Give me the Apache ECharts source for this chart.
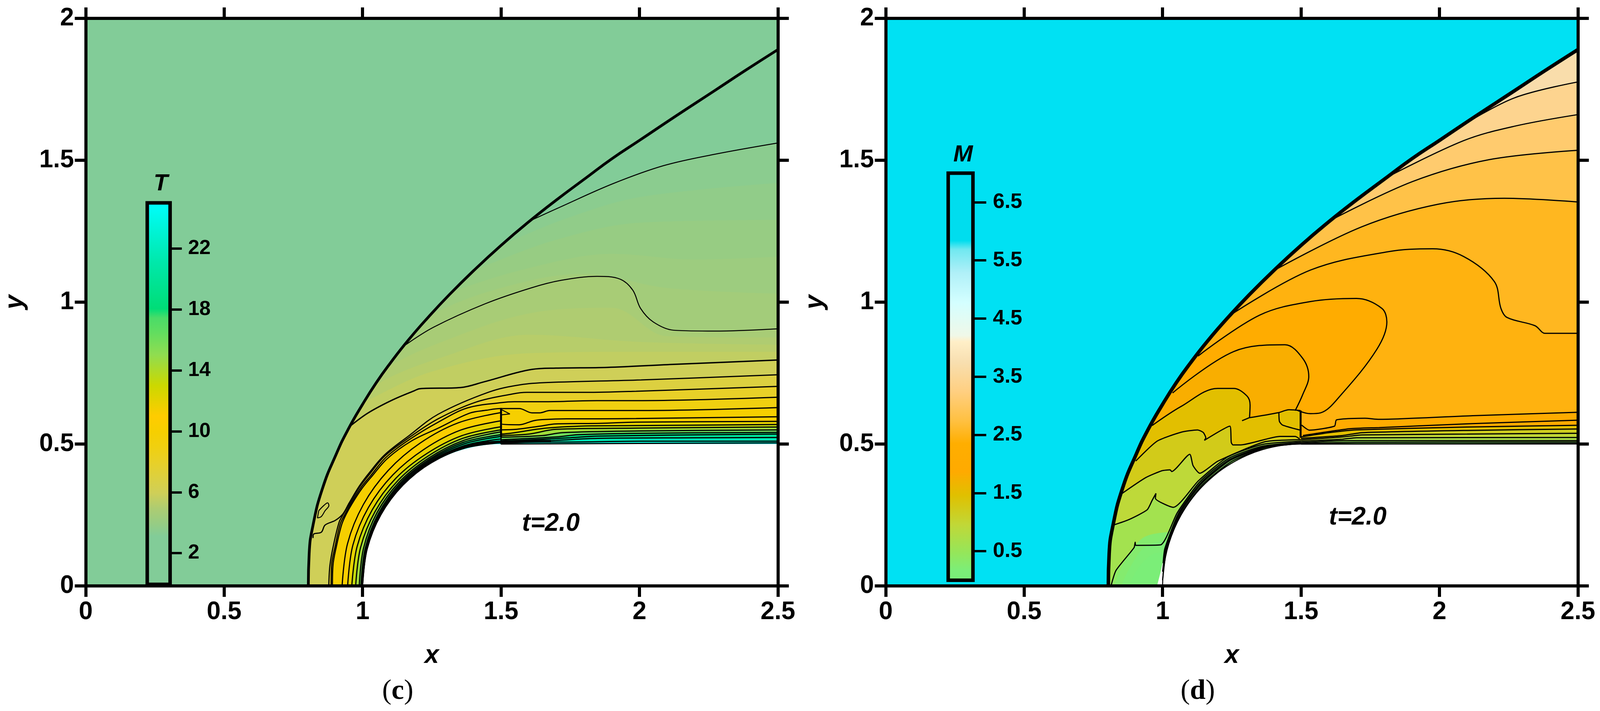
<!DOCTYPE html>
<html>
<head>
<meta charset="utf-8">
<style>
  html, body { margin: 0; padding: 0; background: #fff; }
  #chart { width: 100vw; height: 1819px; }
</style>
<script src="https://cdn.jsdelivr.net/npm/echarts@6/dist/echarts.min.js"></script>
</head>
<body>
<div id="chart"></div>
<script>
// axis ticks
const xTicks = [0, 0.5, 1, 1.5, 2, 2.5];
const yTicks = [0, 0.5, 1, 1.5, 2];
const tempTicks = [2, 6, 10, 14, 18, 22];
const machTicks = [0.5, 1.5, 2.5, 3.5, 4.5, 5.5, 6.5];

// colour scales
const tempLevels = [-0.05, 0.08, 0.1, 3.2, 4, 5, 6, 7, 8, 9, 10, 11, 13, 15, 16.5, 17.4, 18, 21, 25];
const tempColors = ['#ffffff', '#ffffff', '#82cc98', '#82cc98', '#96cc84', '#adcc72', '#cfcf58', '#dcd040', '#e8d028', '#f0d010', '#f6cf00', '#ffcc00', '#ccd800', '#90dd50', '#60dd60', '#4adc68', '#00dd77', '#00e8aa', '#00ffff'];
const machLevels = [0, 0.03, 0.05, 0.2, 0.5, 0.97, 1.48, 1.88, 2.36, 2.74, 3.24, 3.75, 4.1, 4.2, 4.76, 5.27, 5.67, 5.82, 7];
const machColors = ['#ffffff', '#ffffff', '#78ee78', '#7cee78', '#95e65a', '#c0d838', '#e0c000', '#ffaa00', '#ffae00', '#ffc040', '#ffcf80', '#f8dfb0', '#ffefc8', '#f0f8e8', '#d4ffff', '#b0f0f8', '#70e8f0', '#00ddee', '#00ddef'];

// shock and body, same in both panels
const shockFront = [[0.804,0],[0.807,0.113],[0.821,0.214],[0.855,0.343],[0.906,0.467],[0.947,0.55],[1,0.64],[1.05,0.717],[1.1,0.785],[1.165,0.866],[1.24,0.95],[1.313,1.026],[1.4,1.11],[1.5,1.2],[1.6,1.283],[1.7,1.36],[1.81,1.44],[1.9,1.505],[2,1.57],[2.13,1.655],[2.271,1.745],[2.38,1.815],[2.5,1.89]];
const bodyOutline = [[1,0],[1.0025,0.05],[1.0101,0.1],[1.023,0.15],[1.0417,0.2],[1.067,0.25],[1.1,0.3],[1.143,0.35],[1.2,0.4],[1.245,0.43],[1.304,0.46],[1.36,0.48],[1.43,0.495],[1.5,0.5],[2.5,0.5]];
const machBodyGap = [[0.98,0],[0.993,0.05],[1.005,0.1],[1.023,0.15],[1.0417,0.2],[1.067,0.25],[1.1,0.3],[1.143,0.35],[1.2,0.4],[1.245,0.43],[1.304,0.46],[1.36,0.48],[1.43,0.495],[1.5,0.5],[2.5,0.5]];

// T panel contours
const tempC0 = [[1.608,1.288],[1.718,1.337],[1.903,1.417],[2.087,1.481],[2.271,1.521],[2.5,1.561]];
const tempC1 = [[1.156,0.85],[1.257,0.912],[1.442,0.994],[1.608,1.05],[1.718,1.077],[1.847,1.091],[1.93,1.081],[1.976,1.042],[2.004,0.978],[2.05,0.93],[2.124,0.901],[2.271,0.898],[2.5,0.906]];
const tempCa = [[0.9562,0.5642],[1.0204,0.61],[1.1076,0.6552],[1.1855,0.6873],[1.207,0.695],[1.354,0.699],[1.44,0.7195],[1.612,0.763],[1.698,0.7675],[1.883,0.77],[2.129,0.781],[2.5,0.796]];
// unlined shading steps between the drawn contours
const tempShade1 = [[1.52,1.21],[1.75,1.3],[2,1.37],[2.5,1.42]];
const tempShade2 = [[1.42,1.12],[1.7,1.22],[2,1.28],[2.5,1.29]];
const tempShade3 = [[1.33,1.04],[1.6,1.12],[1.9,1.17],[2.2,1.15],[2.5,1.16]];
const tempShade4 = [[1.24,0.95],[1.5,1.05],[1.8,1.1],[2.1,1.05],[2.5,1.03]];
const tempShade5 = [[1.1,0.775],[1.3,0.865],[1.6,0.96],[1.9,0.98],[2.1,0.88],[2.5,0.875]];
const tempShade6 = [[1.05,0.71],[1.3,0.81],[1.6,0.885],[2,0.86],[2.5,0.85]];
const tempShade7 = [[1.01,0.65],[1.25,0.755],[1.6,0.82],[2,0.825],[2.5,0.825]];
const tempLa = [[0.821,0.1686],[0.823,0.1824],[0.851,0.1893],[0.8645,0.2145],[0.901,0.2306],[0.9287,0.2535],[0.9516,0.2926],[0.9883,0.3522],[1.025,0.4],[1.08,0.4624],[1.167,0.529],[1.273,0.605],[1.456,0.683],[1.571,0.709],[1.672,0.717],[2.006,0.726],[2.5,0.744]];
const tempLb = [[0.878,0],[0.882,0.0723],[0.8943,0.141],[0.915,0.2237],[0.9296,0.2512],[0.9516,0.288],[0.9883,0.3476],[1.025,0.3935],[1.08,0.4578],[1.167,0.522],[1.273,0.589],[1.41,0.648],[1.539,0.676],[1.594,0.682],[1.805,0.682],[1.988,0.686],[2.5,0.703]];
const tempLc = [[0.8865,0],[0.888,0.0723],[0.9012,0.141],[0.9195,0.2191],[0.9356,0.2512],[0.9562,0.288],[0.993,0.3453],[1.0296,0.389],[1.0846,0.4532],[1.1717,0.5175],[1.273,0.577],[1.378,0.627],[1.502,0.646],[1.548,0.649],[1.663,0.649],[1.846,0.653],[1.988,0.653],[2.5,0.665]];
const tempLd = [[0.891,0],[0.893,0.0723],[0.9058,0.141],[0.924,0.2145],[0.94,0.2512],[0.9608,0.288],[0.9975,0.343],[1.034,0.3867],[1.0892,0.4486],[1.1763,0.5106],[1.273,0.556],[1.387,0.609],[1.447,0.619],[1.497,0.625],[1.566,0.625],[1.612,0.61],[1.64,0.61],[1.676,0.618],[1.988,0.618],[2.5,0.6285]];
const tempLe = [[0.926,0],[0.9455,0.1487],[1.0029,0.287],[1.0928,0.4072],[1.209,0.504],[1.3459,0.5748],[1.5,0.611],[1.5,0.572],[1.566,0.568],[1.617,0.582],[1.649,0.586],[1.736,0.589],[1.855,0.589],[1.988,0.59],[2.5,0.596]];
const tempLf = [[0.946,0],[0.9648,0.1435],[1.0211,0.2765],[1.109,0.391],[1.222,0.4815],[1.3529,0.5487],[1.5,0.582],[1.5,0.55],[1.557,0.552],[1.64,0.563],[1.699,0.571],[1.86,0.573],[1.988,0.577],[2.5,0.58]];
const tempLg = [[0.961,0],[0.9803,0.1393],[1.035,0.2685],[1.1203,0.3797],[1.231,0.4659],[1.3581,0.5294],[1.5,0.561],[1.5,0.535],[1.534,0.538],[1.663,0.556],[1.828,0.564],[1.988,0.565],[2.5,0.569]];
const tempLh = [[0.975,0],[0.9928,0.136],[1.0453,0.2625],[1.1281,0.3719],[1.236,0.4572],[1.3607,0.5197],[1.5,0.55],[1.5,0.53],[1.6,0.535],[1.7,0.552],[1.99,0.556],[2.5,0.56]];
const tempLi = [[0.988,0],[1.0035,0.1331],[1.0523,0.2585],[1.1331,0.3669],[1.2395,0.4512],[1.3627,0.512],[1.5,0.543],[1.5,0.524],[1.65,0.53],[1.72,0.54],[2,0.546],[2.5,0.55]];
const tempLj = [[0.994,0],[1.0093,0.1316],[1.0575,0.2555],[1.1366,0.3634],[1.242,0.4469],[1.3643,0.5062],[1.5,0.533],[1.5,0.515],[1.7,0.525],[1.78,0.533],[2,0.538],[2.5,0.541]];
const tempLk = [[0.997,0],[1.0122,0.1308],[1.0609,0.2535],[1.1394,0.3606],[1.244,0.4434],[1.3658,0.5004],[1.5,0.527],[1.5,0.51],[1.75,0.522],[1.85,0.528],[2.5,0.535]];
const tempLl = [[0.999,0],[1.0141,0.1303],[1.0635,0.252],[1.1423,0.3577],[1.246,0.4399],[1.3674,0.4946],[1.5,0.518],[1.5,0.505],[1.7,0.513],[1.85,0.52],[2.2,0.522],[2.5,0.523]];
const tempLm = [[1,0],[1.016,0.1298],[1.0653,0.251],[1.1444,0.3556],[1.248,0.4365],[1.3689,0.4888],[1.5,0.51],[1.5,0.5025],[1.65,0.507],[1.75,0.507],[2,0.51],[2.5,0.51]];
const tempLn = [[1,0],[1.0165,0.1296],[1.0661,0.2505],[1.1454,0.3546],[1.249,0.4347],[1.3697,0.4859],[1.5,0.504],[1.5,0.5],[2.5,0.504]];
const tempWallDark = [[1.2,0.408],[1.3,0.464],[1.4,0.497],[1.5,0.508],[1.6,0.51],[1.68,0.51]];
const tempIsland = [[0.8416,0.265],[0.86,0.2834],[0.8737,0.2926],[0.8783,0.2834],[0.8645,0.265],[0.8507,0.2444],[0.837,0.2398],[0.8416,0.265]];
const tempWedge = [[1.502,0.621],[1.532,0.606],[1.502,0.603]];
const tempStep = [[1.5,0.627],[1.5,0.524]];

// M panel contours
const machM1 = [[2.087,1.625],[2.271,1.72],[2.5,1.776]];
const machM2 = [[1.81,1.44],[2.087,1.569],[2.271,1.62],[2.5,1.661]];
const machM3 = [[1.608,1.289],[1.903,1.425],[2.179,1.502],[2.5,1.535]];
const machM4 = [[1.405,1.113],[1.718,1.265],[1.995,1.345],[2.234,1.366],[2.5,1.353]];
const machM5 = [[1.257,0.962],[1.534,1.113],[1.81,1.177],[1.976,1.188],[2.087,1.161],[2.198,1.073],[2.222,0.978],[2.244,0.946],[2.345,0.917],[2.382,0.89],[2.5,0.89]];
const machM6 = [[1.128,0.81],[1.35,0.954],[1.534,1.002],[1.7,1.013],[1.792,0.978],[1.81,0.93],[1.774,0.834],[1.645,0.674],[1.571,0.61],[1.534,0.607],[1.488,0.618]];
const machM7 = [[1.036,0.68],[1.257,0.826],[1.442,0.85],[1.506,0.802],[1.528,0.738],[1.506,0.674],[1.479,0.618]];
const machM8 = [[0.962,0.565],[1.066,0.632],[1.199,0.696],[1.257,0.696],[1.305,0.669],[1.316,0.637],[1.314,0.593],[1.42,0.611],[1.457,0.621],[1.498,0.618]];
const machRidge = [[1.287,0.582],[1.314,0.593]];
const machPocket = [[1.42,0.611],[1.422,0.5795],[1.433,0.567],[1.495,0.5495]];
const machStep = [[1.4985,0.618],[1.4985,0.522]];
const machH = [[0.903,0.44],[0.98,0.51],[1.066,0.5414],[1.126,0.5497],[1.147,0.5405],[1.156,0.522],[1.151,0.513],[1.243,0.563],[1.248,0.506],[1.254,0.497],[1.282,0.497],[1.424,0.527],[1.479,0.527],[1.495,0.518]];
const machI = [[0.845,0.32],[0.938,0.381],[0.998,0.406],[1.027,0.409],[1.033,0.403],[1.098,0.464],[1.11,0.424],[1.134,0.397],[1.2,0.44],[1.369,0.508],[1.5,0.515]];
const machJ = [[0.821,0.214],[0.879,0.234],[0.944,0.268],[0.962,0.301],[0.976,0.326],[0.974,0.309],[1.039,0.277],[1.1295,0.3705],[1.237,0.4555],[1.3622,0.499],[1.5,0.51]];
const machK = [[0.8145,0.003],[0.832,0.055],[0.897,0.135],[0.901,0.154],[0.903,0.143],[0.992,0.1445],[1.0531,0.258],[1.1338,0.3662],[1.24,0.4503],[1.3638,0.493],[1.5,0.506]];
// unlined shading steps in the stagnation region
const machShade1 = [[0.825,0],[0.86,0.08],[0.93,0.17],[1.03,0.19]];
const machShade2 = [[0.85,0],[0.885,0.07],[0.94,0.14],[1.02,0.16]];
const machShade3 = [[0.88,0],[0.91,0.06],[0.96,0.11],[1.01,0.12]];
const machW3 = [[1.002,0.08],[1.0083,0.1318],[1.0575,0.2555],[1.1373,0.3627],[1.2425,0.446],[1.3684,0.4907],[1.5,0.504]];
const machW4 = [[1,0.05],[1.0122,0.1308],[1.0609,0.2535],[1.1401,0.3599],[1.2445,0.4425],[1.3689,0.4888],[1.5,0.503]];
const machW5 = [[1,0.02],[1.0151,0.13],[1.0644,0.2515],[1.1437,0.3563],[1.2475,0.4373],[1.3695,0.4869],[1.5,0.502]];
const machD = [[1.502,0.567],[1.53,0.549],[1.621,0.563],[1.628,0.585],[1.731,0.591],[1.782,0.587],[2.12,0.6],[2.5,0.612]];
const machE = [[1.507,0.53],[1.677,0.554],[1.782,0.558],[2.12,0.572],[2.5,0.584]];
const machF = [[1.5,0.525],[1.6,0.54],[1.7,0.55],[2.1,0.56],[2.5,0.566]];
const machG = [[1.5,0.52],[1.65,0.53],[1.72,0.54],[2.1,0.548],[2.5,0.553]];
const machH2 = [[1.5,0.515],[1.65,0.525],[1.72,0.532],[2.1,0.535],[2.5,0.538]];
const machI2 = [[1.5,0.51],[1.65,0.517],[1.7,0.522],[2.5,0.523]];
const machJ2 = [[1.5,0.505],[1.6,0.51],[1.7,0.512],[2.5,0.512]];
const machK2 = [[1.5,0.502],[1.7,0.506],[2.5,0.507]];
const machL2 = [[1.5,0.5],[2.5,0.502]];

const FONT = '"Liberation Sans", Arial, sans-serif';

// the window can open narrower than 4200 (4096 here), so the layout follows its real width
const sx = window.innerWidth / 4200;

function scaleColor(levels, colors, v) {
  let i = 1;
  while (i < levels.length - 1 && levels[i] < v) i++;
  const t = Math.max(0, Math.min(1, (v - levels[i - 1]) / (levels[i] - levels[i - 1])));
  const a = echarts.color.parse(colors[i - 1]);
  const b = echarts.color.parse(colors[i]);
  const mix = [0, 1, 2].map(k => Math.round(a[k] + (b[k] - a[k]) * t));
  return 'rgb(' + mix.join(',') + ')';
}

// everything behind the shock front up to where a contour leaves it
function fromShock(line) {
  return shockFront.filter(p => p[0] < line[0][0]).concat(line);
}

function fill(panel, pts, color, smooth) {
  return {
    type: 'line', xAxisIndex: panel * 2, yAxisIndex: panel * 2, data: pts,
    showSymbol: false, silent: true, animation: false, clip: true,
    smooth: smooth === undefined ? 0.35 : smooth,
    lineStyle: { width: 0, opacity: 0 },
    areaStyle: { color: color, opacity: 1, origin: 'start' }
  };
}

function contour(panel, pts, width, smooth) {
  return {
    type: 'line', xAxisIndex: panel * 2, yAxisIndex: panel * 2, data: pts,
    showSymbol: false, silent: true, animation: false, clip: true,
    smooth: smooth === undefined ? 0.35 : smooth,
    lineStyle: { color: '#000', width: width || 3 }, z: 3
  };
}

function barSeries(index, levels, colors) {
  const lo = levels[0], hi = levels[levels.length - 1];
  const stops = levels.map((v, i) => ({ offset: (v - lo) / (hi - lo), color: colors[i] }));
  return {
    type: 'custom', xAxisIndex: index, yAxisIndex: index, z: 5, silent: true, animation: false,
    data: [[0, lo]],
    renderItem: (params, api) => {
      const a = api.coord([0, hi]);
      const b = api.coord([1, lo]);
      return {
        type: 'rect',
        shape: { x: a[0], y: a[1], width: b[0] - a[0], height: b[1] - a[1] },
        style: {
          fill: new echarts.graphic.LinearGradient(0, 1, 0, 0, stops),
          stroke: '#000', lineWidth: 9
        }
      };
    }
  };
}

const T = v => scaleColor(tempLevels, tempColors, v);
const M = v => scaleColor(machLevels, machColors, v);

const series = [
  // T fills, outer to inner
  fill(0, shockFront, T(3.2), 0.5),
  fill(0, fromShock(tempC0), T(3.55)),
  fill(0, fromShock(tempShade1), T(3.8)),
  fill(0, fromShock(tempShade2), T(4.05)),
  fill(0, fromShock(tempShade3), T(4.3)),
  fill(0, fromShock(tempShade4), T(4.55)),
  fill(0, fromShock(tempC1), T(4.8)),
  fill(0, fromShock(tempShade5), T(5.05)),
  fill(0, fromShock(tempShade6), T(5.3)),
  fill(0, fromShock(tempShade7), T(5.6)),
  fill(0, fromShock(tempCa), T(6)),
  fill(0, tempLa.slice(5), T(7)),
  fill(0, tempLb, T(8)),
  fill(0, tempLc, T(9)),
  fill(0, tempLd, T(10)),
  fill(0, tempLe, T(10.4)),
  fill(0, tempLf, T(12)),
  fill(0, tempLg, T(13.3)),
  fill(0, tempLh, T(14.5)),
  fill(0, tempLi, T(16)),
  fill(0, tempLj, T(18)),
  fill(0, tempLk, T(20)),
  fill(0, tempLl, T(21.5)),
  fill(0, tempLm, T(23)),
  fill(0, tempLn, T(24.5)),
  fill(0, bodyOutline, '#ffffff'),
  // M fills
  fill(1, shockFront, M(3.7), 0.5),
  fill(1, fromShock(machM1), M(3.4)),
  fill(1, fromShock(machM2), M(3.1)),
  fill(1, fromShock(machM3), M(2.8)),
  fill(1, fromShock(machM4), M(2.55)),
  fill(1, fromShock(machM5), M(2.45)),
  fill(1, fromShock(machM6), M(2.15)),
  fill(1, fromShock(machM7), M(1.8)),
  fill(1, fromShock(machM8), M(1.5)),
  fill(1, fromShock(machH), M(1.25), 0.2),
  fill(1, fromShock(machI), M(0.95), 0.2),
  fill(1, fromShock(machJ), M(0.65), 0.2),
  fill(1, fromShock(machK), M(0.4), 0.2),
  fill(1, machShade1, M(0.3)),
  fill(1, machShade2, M(0.22)),
  fill(1, machShade3, M(0.15)),
  fill(1, machD, M(2.05), 0.2),
  fill(1, machE, M(1.9)),
  fill(1, machF, M(1.5)),
  fill(1, machG, M(1.2)),
  fill(1, machH2, M(1)),
  fill(1, machI2, M(0.75)),
  fill(1, machJ2, M(0.5)),
  fill(1, machK2, M(0.3)),
  fill(1, machL2, M(0.2)),
  fill(1, machBodyGap, '#ffffff'),
  // T lines
  contour(0, shockFront, 7, 0.5),
  contour(0, tempC0, 2.5),
  contour(0, tempC1, 2.5),
  contour(0, tempCa, 3.5),
  contour(0, tempIsland, 2.5),
  contour(0, tempWedge, 2.5, false),
  contour(0, tempStep, 5, false),
  contour(0, tempWallDark, 7)
].concat(
  [tempLa, tempLb, tempLc, tempLd, tempLe, tempLf, tempLg, tempLh, tempLi, tempLj, tempLk, tempLl, tempLm, tempLn].map(l => contour(0, l, 3)),
  [machM1, machM2, machM3, machM4, machM5, machM6, machM7, machM8].map(l => contour(1, l, 3)),
  [machRidge, machPocket, machH, machI, machJ, machK, machW3, machW4, machW5, machD, machE, machF, machG, machH2, machI2, machJ2, machK2, machL2].map(l => contour(1, l, 3, 0.2)),
  [
    contour(1, shockFront, 9, 0.5),
    contour(1, machStep, 5, false),
    contour(1, bodyOutline, 2.5),
    barSeries(4, tempLevels, tempColors),
    barSeries(5, machLevels, machColors)
  ]
);

const frameLine = { show: true, onZero: false, lineStyle: { color: '#000', width: 8, cap: 'square' } };
const frameTick = { show: true, inside: false, length: 28, lineStyle: { color: '#000', width: 8 } };
const tickFont = { fontFamily: FONT, fontWeight: 'bold', fontSize: 64, color: '#000' };
const nameFont = { fontFamily: FONT, fontWeight: 'bold', fontStyle: 'italic', fontSize: 66, color: '#000' };

function xAxisPair(grid) {
  const base = {
    gridIndex: grid, type: 'value', min: xTicks[0], max: xTicks[xTicks.length - 1], interval: 0.5,
    splitLine: { show: false }, axisLine: frameLine, axisTick: frameTick, z: 10
  };
  return [
    Object.assign({}, base, {
      position: 'bottom', name: 'x', nameLocation: 'middle', nameGap: 146, nameTextStyle: nameFont,
      axisLabel: Object.assign({ margin: 35, showMinLabel: true, showMaxLabel: true, hideOverlap: false }, tickFont)
    }),
    Object.assign({}, base, { position: 'top', axisLabel: { show: false } })
  ];
}

function yAxisPair(grid) {
  const base = {
    gridIndex: grid, type: 'value', min: yTicks[0], max: yTicks[yTicks.length - 1], interval: 0.5,
    splitLine: { show: false }, axisLine: frameLine, axisTick: frameTick, z: 10
  };
  return [
    Object.assign({}, base, {
      position: 'left', name: 'y', nameLocation: 'middle', nameGap: 148, nameRotate: 90, nameTextStyle: nameFont,
      axisLabel: Object.assign({ margin: 30, showMinLabel: true, showMaxLabel: true, hideOverlap: false }, tickFont)
    }),
    Object.assign({}, base, { position: 'right', axisLabel: { show: false } })
  ];
}

function barAxisX(grid) {
  return { gridIndex: grid, type: 'value', min: 0, max: 1, show: false };
}

function barAxisY(grid, levels, ticks, tickLen, margin, fontSize) {
  return {
    gridIndex: grid, type: 'value', position: 'right', z: 6,
    min: levels[0], max: levels[levels.length - 1],
    splitLine: { show: false },
    axisLine: { show: true, onZero: false, lineStyle: { color: '#000', width: 2 } },
    axisTick: { show: true, inside: false, length: tickLen, customValues: ticks, lineStyle: { color: '#000', width: 6 } },
    axisLabel: { show: true, margin: margin, customValues: ticks, fontFamily: FONT, fontWeight: 'bold', fontSize: fontSize, color: '#000' }
  };
}

function textItem(text, x, y, size) {
  return {
    type: 'text', x: x * sx, y: y, z: 20,
    style: { text: text, fontFamily: FONT, fontWeight: 'bold', fontStyle: 'italic', fontSize: size, fill: '#000', align: 'center', verticalAlign: 'middle' }
  };
}

function captionItem(letter, x, y) {
  return {
    type: 'text', x: x * sx, y: y, z: 20,
    style: {
      text: '(' + '{b|' + letter + '}' + ')', align: 'center', verticalAlign: 'middle',
      font: '72px "Liberation Serif", serif', fill: '#000',
      rich: { b: { font: 'bold 72px "Liberation Serif", serif', fill: '#000' } }
    }
  };
}

const option = {
  backgroundColor: '#fff',
  animation: false,
  grid: [
    { left: 225 * sx, top: 47, width: 1817 * sx, height: 1452, show: true, backgroundColor: '#82cc98', borderWidth: 0, outerBoundsMode: 'none' },
    { left: 2325 * sx, top: 47, width: 1817 * sx, height: 1452, show: true, backgroundColor: '#00e1f3', borderWidth: 0, outerBoundsMode: 'none' },
    { left: 386.5 * sx, top: 519, width: 60 * sx, height: 976, outerBoundsMode: 'none' },
    { left: 2489 * sx, top: 443, width: 65 * sx, height: 1041.5, outerBoundsMode: 'none' }
  ],
  xAxis: xAxisPair(0).concat(xAxisPair(1), [barAxisX(2), barAxisX(3)]),
  yAxis: yAxisPair(0).concat(yAxisPair(1), [
    barAxisY(2, tempLevels, tempTicks, 30, 46, 52),
    barAxisY(3, machLevels, machTicks, 34, 51, 54)
  ]),
  series: series,
  graphic: [
    textItem('T', 422, 470, 60),
    textItem('M', 2528, 396, 60),
    textItem('t=2.0', 1446, 1340, 64),
    textItem('t=2.0', 3564, 1324, 64),
    captionItem('c', 1044, 1769),
    captionItem('d', 3144, 1769)
  ]
};

const chart = echarts.init(document.getElementById('chart'));
chart.setOption(option);
</script>
</body>
</html>
